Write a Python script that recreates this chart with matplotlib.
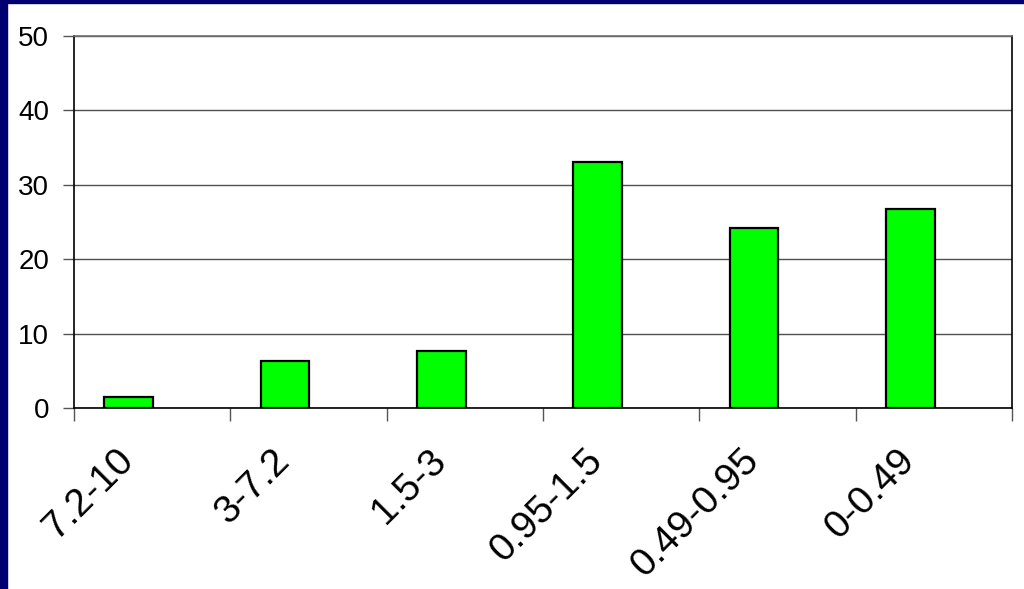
import matplotlib
matplotlib.use("Agg")
import matplotlib.pyplot as plt
from matplotlib.patches import Rectangle
from matplotlib.transforms import ScaledTranslation

categorias = ["7.2-10", "3-7.2", "1.5-3", "0.95-1.5", "0.49-0.95", "0-0.49"]
valores = [1.5, 6.3, 7.7, 33.1, 24.2, 26.7]
yticks = [0, 10, 20, 30, 40, 50]

plt.rcParams['font.family'] = ['Liberation Sans', 'DejaVu Sans']

fig = plt.figure(figsize=(10.24, 5.89), dpi=100)
fig.patch.set_facecolor('white')

# borde azul oscuro (izquierda y arriba)
fig.patches.append(Rectangle((0, 0), 7 / 1024, 1, transform=fig.transFigure,
                             color='#000070', zorder=0))
fig.patches.append(Rectangle((0, 1 - 3 / 589), 1, 3 / 589, transform=fig.transFigure,
                             color='#000070', zorder=0))

ax = fig.add_axes([74 / 1024, 1 - 408 / 589, (1012 - 74) / 1024, (408 - 36) / 589])

x = list(range(len(categorias)))
# las barras quedan corridas a la izquierda del centro de cada categoria
ax.bar([i - 0.15 for i in x], valores, width=0.31, color='#00FF00',
       edgecolor='black', linewidth=1.6, zorder=3)

ax.set_xlim(-0.5, len(categorias) - 0.5)
ax.set_ylim(0, 50)
ax.set_yticks(yticks)
ax.yaxis.grid(True, color='#505050', linewidth=1, zorder=0)

# ticks de separacion entre categorias
ax.set_xticks([i + 0.5 for i in range(-1, len(categorias))], minor=True)
ax.tick_params(axis='x', which='minor', length=9, width=1, color='#555555', direction='out')
ax.set_xticks(x)
ax.set_xticklabels(categorias, rotation=45, ha='right', va='center',
                   rotation_mode='anchor', fontsize=28)
ax.tick_params(axis='x', which='major', length=0, pad=34)
ax.tick_params(axis='y', length=8, width=1, color='#555555', pad=10, labelsize=20)

for lbl in ax.get_xticklabels():
    lbl.set_transform(lbl.get_transform() + ScaledTranslation(-0.24, 0, fig.dpi_scale_trans))

ax.spines['top'].set_color('#707070')
ax.spines['left'].set_color('black')
ax.spines['right'].set_color('black')
ax.spines['bottom'].set_color('black')
for s in ax.spines.values():
    s.set_linewidth(1.2)

fig.savefig("out.png", dpi=100)
